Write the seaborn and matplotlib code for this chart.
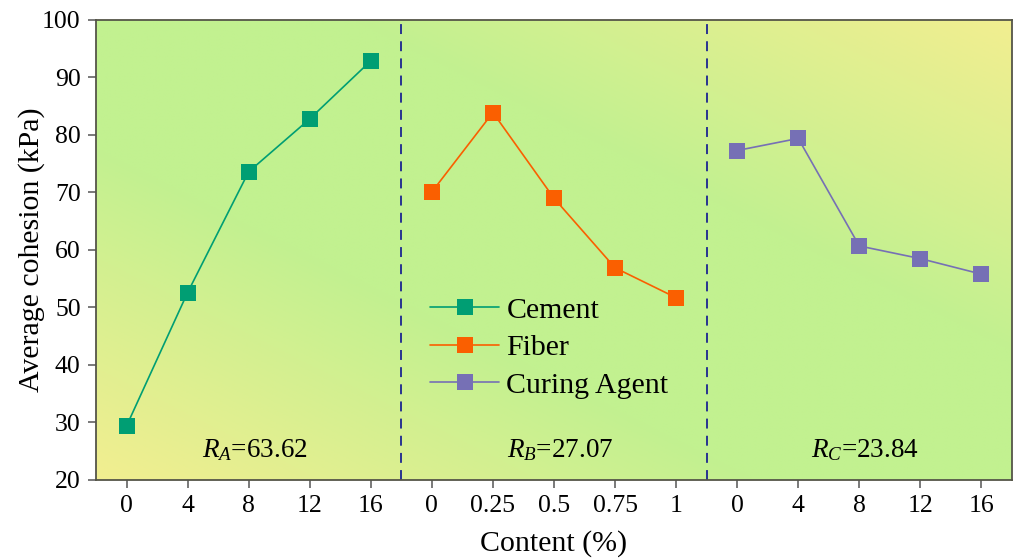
import numpy as np
import pandas as pd
import matplotlib
matplotlib.use("Agg")
import matplotlib.pyplot as plt
from matplotlib.colors import LinearSegmentedColormap
import seaborn as sns

# Additive contents and average cohesion (kPa)
cement_content = ["0", "4", "8", "12", "16"]
cement_cohesion = [29.4, 52.6, 73.6, 82.8, 92.9]

fiber_content = ["0", "0.25", "0.5", "0.75", "1"]
fiber_cohesion = [70.1, 83.9, 69.0, 56.9, 51.7]

agent_content = ["0", "4", "8", "12", "16"]
agent_cohesion = [77.3, 79.4, 60.7, 58.5, 55.8]

series_names = ["Cement", "Fiber", "Curing Agent"]
range_labels = [r"$R_A$=63.62", r"$R_B$=27.07", r"$R_C$=23.84"]

palette = {"Cement": "#009E73", "Fiber": "#FA5F00", "Curing Agent": "#7670B5"}

sns.set_theme(style="ticks")
plt.rcParams["font.family"] = ["Liberation Serif", "DejaVu Serif"]
plt.rcParams["mathtext.fontset"] = "custom"
plt.rcParams["mathtext.rm"] = "Liberation Serif"
plt.rcParams["mathtext.it"] = "Liberation Serif:italic"
plt.rcParams["text.color"] = "black"
plt.rcParams["axes.labelcolor"] = "black"
plt.rcParams["xtick.labelcolor"] = "black"
plt.rcParams["ytick.labelcolor"] = "black"

# One shared axis: each factor occupies five consecutive positions
contents = [cement_content, fiber_content, agent_content]
values = [cement_cohesion, fiber_cohesion, agent_cohesion]
rows = []
tick_labels = []
pos = 0
for name, cont, vals in zip(series_names, contents, values):
    for c, v in zip(cont, vals):
        rows.append({"pos": pos, "cohesion": v, "factor": name})
        tick_labels.append(c)
        pos += 1
df = pd.DataFrame(rows)

fig = plt.figure(figsize=(10.15, 5.58), dpi=100)
ax = fig.add_axes([0.0946, 0.1398, 0.9024, 0.8244])

# Diagonal yellow-green-yellow background
bg_cmap = LinearSegmentedColormap.from_list(
    "bg", [(0.0, "#F2EE90"), (0.36, "#C2F190"), (0.64, "#C2F190"), (1.0, "#F2EE90")]
)
u, v = np.meshgrid(np.linspace(0, 1, 600), np.linspace(0, 1, 300))
grad = (u + v) / 2.0
ax.imshow(grad, cmap=bg_cmap, vmin=0, vmax=1, origin="lower", aspect="auto",
          extent=[0, 1, 0, 1], transform=ax.transAxes, zorder=0, interpolation="bilinear")

sns.lineplot(data=df, x="pos", y="cohesion", hue="factor", palette=palette,
             hue_order=series_names, marker="s", markersize=11.5,
             markeredgewidth=0, linewidth=1.2, sort=False, ax=ax, zorder=3)

# Separators between factor groups
for xs in [4.5, 9.5]:
    ax.axvline(xs, color="#1B2590", linestyle=(0, (5.5, 4)), linewidth=1.3, zorder=2)

for i, lab in enumerate(range_labels):
    ax.text(2.1 + 5 * i, 24, lab, ha="center", va="baseline", fontsize=19.5, zorder=4)

ax.set_xlim(-0.5, 14.5)
ax.set_ylim(20, 100)
ax.set_xticks(range(15))
ax.set_xticklabels(tick_labels)
ax.set_yticks(range(20, 101, 10))
ax.tick_params(axis="both", labelsize=18.5, direction="out", length=6, width=1.1,
               color="#555555", labelcolor="black", pad=5)
for sp in ax.spines.values():
    sp.set_visible(True)
    sp.set_color("#555548")
    sp.set_linewidth(1.3)

ax.set_xlabel("Content (%)", fontsize=21.5, labelpad=9)
ax.set_ylabel("Average cohesion (kPa)", fontsize=21.5, labelpad=-2)

leg = ax.legend(loc="upper left", bbox_to_anchor=(0.365, 0.398), frameon=False,
                fontsize=21.5, handlelength=2.3, handletextpad=0.25, labelspacing=0.35,
                borderaxespad=0, borderpad=0)
for h in leg.legend_handles:
    h.set_markersize(11.5)
    h.set_markeredgewidth(0)
for t in leg.get_texts():
    t.set_color("black")

fig.savefig("out.png", dpi=100)
